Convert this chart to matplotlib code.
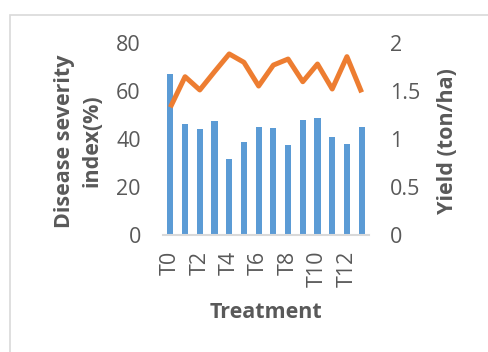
import matplotlib.pyplot as plt
from matplotlib.patches import Rectangle

plt.rcParams["font.family"] = ["Open Sans", "DejaVu Sans"]

treatments = [f"T{i}" for i in range(14)]
severity = [67.2, 46.2, 44.4, 47.5, 31.9, 39.0, 45.3, 44.6, 37.8, 48.2, 48.9, 41.1, 38.0, 45.0]
yield_tha = [1.333, 1.652, 1.514, 1.704, 1.889, 1.802, 1.555, 1.773, 1.836, 1.600, 1.784, 1.524, 1.861, 1.489]

BAR_COLOR = "#5b9bd5"
LINE_COLOR = "#ed7d31"
TEXT_COLOR = "#595959"
TICK_SIZE = 15.5

fig = plt.figure(figsize=(4.89, 3.52), dpi=100)

# outer chart frame, runs off the right and bottom edges
fig.patches.append(Rectangle((10 / 489, -0.1), 1.2, 1 - 15 / 352 + 0.1,
                             transform=fig.transFigure, fill=False,
                             edgecolor="#d9d9d9", linewidth=1.2))

ax = fig.add_axes([163 / 489, 1 - 235.3 / 352, 206 / 489, 192 / 352])
x = range(len(treatments))
ax.bar(x, severity, width=0.42, color=BAR_COLOR, zorder=2)
ax.set_xlim(-0.5, len(treatments) - 0.5)
ax.set_ylim(0, 80)
ax.set_yticks([0, 20, 40, 60, 80])
ax.set_xticks(list(x)[::2])
ax.set_xticklabels(treatments[::2], rotation=90)

for s in ["top", "right", "left"]:
    ax.spines[s].set_visible(False)
ax.spines["bottom"].set_color("#d9d9d9")
ax.spines["bottom"].set_linewidth(1.5)
ax.tick_params(length=0, labelsize=TICK_SIZE, colors=TEXT_COLOR)
ax.tick_params(axis="y", pad=16)
ax.tick_params(axis="x", pad=11)

ax2 = ax.twinx()
ax2.plot(x, yield_tha, color=LINE_COLOR, linewidth=3.6, solid_joinstyle="round",
         solid_capstyle="butt", zorder=3)
ax2.set_ylim(0, 2)
ax2.set_yticks([0, 0.5, 1, 1.5, 2])
ax2.set_yticklabels(["0", "0.5", "1", "1.5", "2"])
for s in ["top", "right", "left", "bottom"]:
    ax2.spines[s].set_visible(False)
ax2.tick_params(length=0, labelsize=TICK_SIZE, colors=TEXT_COLOR, pad=15)

label_kw = dict(fontsize=15.5, fontweight="bold", color=TEXT_COLOR)
fig.text(78.5 / 489, 1 - 141 / 352, "Disease severity\nindex(%)", rotation=90,
         ha="center", va="center", linespacing=1.4, **label_kw)
fig.text(448 / 489, 1 - 141 / 352, "Yield (ton/ha)", rotation=90,
         ha="center", va="center", **label_kw)
fig.text(266 / 489, 1 - 313 / 352, "Treatment", ha="center", va="center", **label_kw)

fig.savefig("out.png", dpi=100)
